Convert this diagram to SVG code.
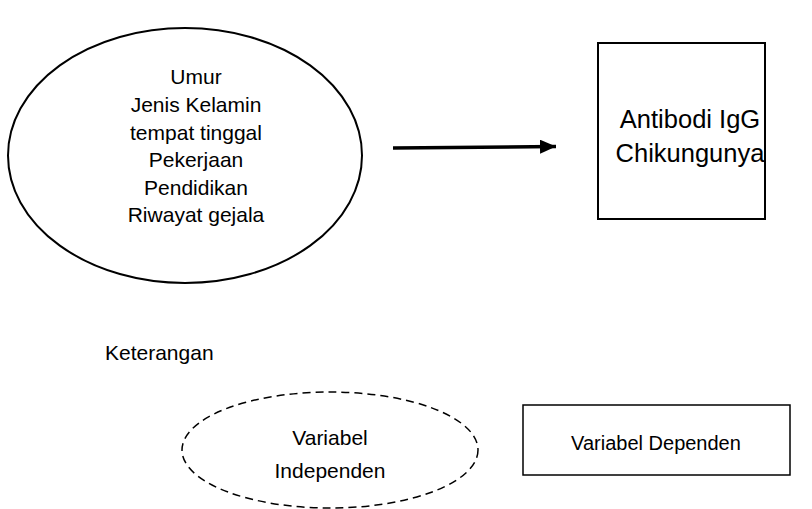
<svg xmlns="http://www.w3.org/2000/svg" width="812" height="509" viewBox="0 0 812 509">
<style>
text{font-family:"Liberation Sans",Arial,sans-serif;fill:#000;text-anchor:middle}
.s{fill:#fff;stroke:#000;stroke-width:2}
</style>
<defs>
<marker id="ah" markerWidth="16" markerHeight="14" refX="16" refY="7" orient="auto" markerUnits="userSpaceOnUse">
<path d="M0,0 L16,7 L0,14 Z" fill="#000"/>
</marker>
</defs>
<rect width="812" height="509" fill="#fff"/>
<g id="independent">
<ellipse class="s" cx="185" cy="155.5" rx="177" ry="127.5"/>
<text font-size="21"><tspan x="196" y="84">Umur</tspan><tspan x="196" y="112">Jenis Kelamin</tspan><tspan x="196" y="140">tempat tinggal</tspan><tspan x="196" y="167">Pekerjaan</tspan><tspan x="196" y="195">Pendidikan</tspan><tspan x="196" y="222">Riwayat gejala</tspan></text>
</g>
<g id="dependent">
<rect class="s" x="598" y="43" width="167" height="176"/>
<text font-size="25.5"><tspan x="690" y="128">Antibodi IgG</tspan><tspan x="690" y="162">Chikungunya</tspan></text>
</g>
<g id="connectors">
<line x1="393" y1="148" x2="556" y2="146.5" stroke="#000" stroke-width="3.5" marker-end="url(#ah)"/>
</g>
<g id="legend-title">
<text x="105" y="360" font-size="21" style="text-anchor:start">Keterangan</text>
</g>
<g id="legend-independent">
<ellipse cx="330" cy="450" rx="148" ry="58" fill="none" stroke="#000" stroke-width="1.5" stroke-dasharray="8,5"/>
<text font-size="21"><tspan x="330" y="445">Variabel</tspan><tspan x="330" y="478">Independen</tspan></text>
</g>
<g id="legend-dependent">
<rect x="523" y="405" width="267" height="70" fill="#fff" stroke="#000" stroke-width="1.5"/>
<text x="656" y="450" font-size="20">Variabel Dependen</text>
</g>
</svg>
